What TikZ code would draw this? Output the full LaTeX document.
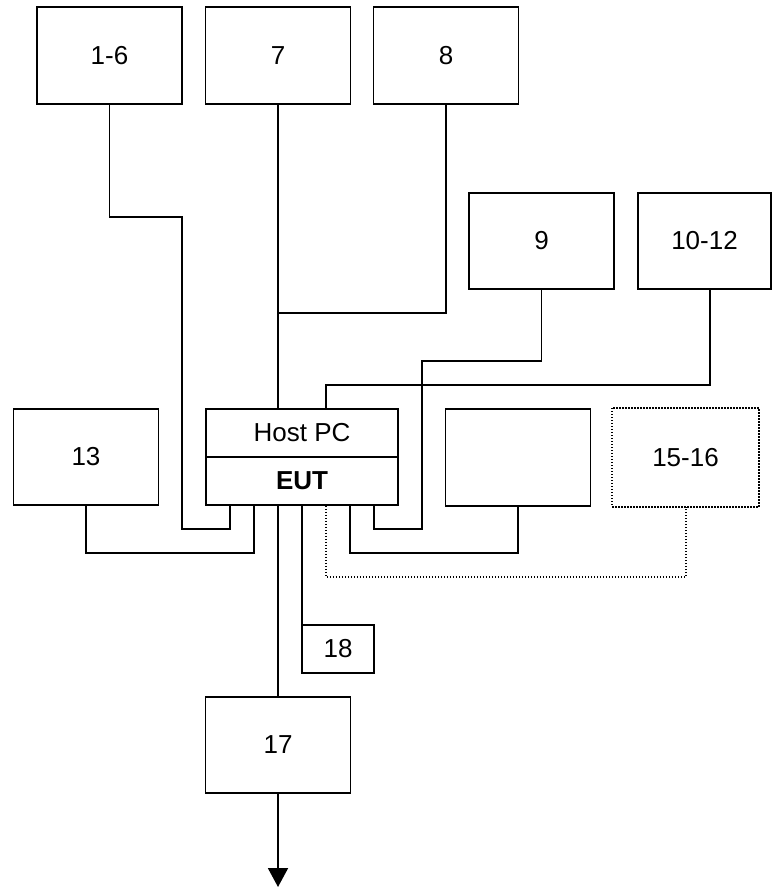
\documentclass[tikz,border=0pt]{standalone}
\usepackage{fontspec}
\setmainfont{Liberation Sans}
\usetikzlibrary{arrows.meta}
\begin{document}
\begin{tikzpicture}[x=1pt,y=-1pt,
  box/.style={draw,line width=1.9pt,inner sep=0pt,minimum width=#1},
  box/.default=145pt,
  lbl/.style={font=\fontsize{26}{30}\selectfont},
  wire/.style={line width=1.9pt},
  dwire/.style={line width=1.4pt,dash pattern=on 1.4pt off 1.6pt}]
\useasboundingbox (0,0) rectangle (772,888);
% top boxes
\node[box,minimum height=97pt,lbl] (b16) at (109.5,55.5) {1-6};
\node[box,minimum height=97pt,lbl] (b7) at (278,55.5) {7};
\node[box,minimum height=97pt,lbl] (b8) at (446,55.5) {8};
\node[box,minimum height=96pt,lbl] (b9) at (541.5,241) {9};
\node[box=133pt,minimum height=96pt,lbl] (b1012) at (704.5,241) {10-12};
% middle row
\node[box,minimum height=96pt,lbl] (b13) at (86,457) {13};
\node[box=192pt,minimum height=48pt,lbl] (hp) at (302,433) {Host PC};
\node[box=192pt,minimum height=48pt,lbl] (eut) at (302,481) {\bfseries EUT};
\node[box,minimum height=97pt] (bE) at (518,457.5) {};
\node[box,minimum height=97pt,lbl,draw=none] (b1516) at (685.5,457.5) {15-16};
\draw[dwire] (b1516.north west) rectangle (b1516.south east);
% lower boxes
\node[box=72pt,minimum height=48pt,lbl] (b18) at (338,649) {18};
\node[box,minimum height=96pt,lbl] (b17) at (278,745) {17};
% connectors
\draw[wire] (b16.south) |- (182,217) -- (182,529) -| (230,0 |- eut.south);
\draw[wire] (b7.south) -- (b7.south |- hp.north);
\draw[wire] (b8.south) |- (278,313);
\draw[wire] (710,0 |- b1012.south) |- (326,385) -- (326,0 |- hp.north);
\draw[wire] (b13.south) |- (254,553) -- (254,0 |- eut.south);
\draw[wire] (278,0 |- eut.south) -- (b17.north);
\draw[wire] (eut.south) -- (eut.south |- b18.north);
\draw[dwire] (326,0 |- eut.south) |- (686,577) -- (686,0 |- b1516.south);
\draw[wire] (350,0 |- eut.south) -- (350,553) -| (bE.south);
\draw[wire] (374,0 |- eut.south) |- (422,529) -- (422,361) -| (b9.south);
\draw[wire,-{Triangle[width=20pt,length=19pt]}] (b17.south) -- (278,887);
\end{tikzpicture}
\end{document}
